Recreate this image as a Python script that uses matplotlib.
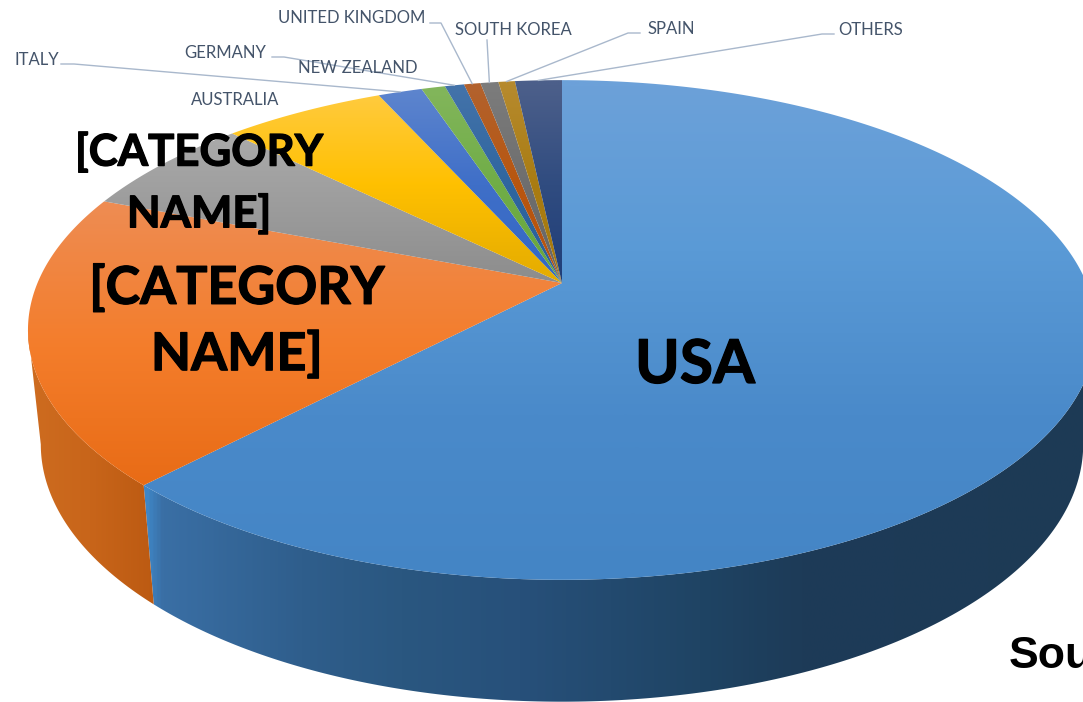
import numpy as np
import matplotlib
matplotlib.use('Agg')
import matplotlib.pyplot as plt
import matplotlib.patheffects as pe
from matplotlib.patches import Polygon
from matplotlib.colors import LinearSegmentedColormap

# slice shares in percent, clockwise from 12 o'clock
names = ['USA', '[CATEGORY NAME]', '[CATEGORY NAME]', 'AUSTRALIA', 'ITALY', 'GERMANY',
         'NEW ZEALAND', 'UNITED KINGDOM', 'SOUTH KOREA', 'SPAIN', 'OTHERS']
shares = [62.1, 18.8, 6.5, 5.9, 1.6, 0.86, 0.7, 0.6, 0.65, 0.6, 1.7]

# top face colours, light (back) to dark (front)
top_colors = [['#6CA1D9', '#5A9AD6', '#4A8ACA', '#4485C5'],
              ['#EE8C52', '#F47D2B', '#E86B15'],
              ['#ABABAB', '#9C9C9C', '#8C8C8C'],
              ['#FFCC45', '#FFC000', '#E3AB00'],
              ['#5F86CE', '#3F6FC8', '#3367C4'],
              ['#83B65C', '#70AD47', '#68A63C'],
              ['#4473AA', '#2F669F', '#2A6099'],
              ['#B2622E', '#B8560F', '#B8540F'],
              ['#7C7C7C', '#6E6E6E', '#666666'],
              ['#B68A2E', '#A97C12', '#A67A0E'],
              ['#4C5F8A', '#304C80', '#1F3D78']]

# side wall colours and the x they sit at
wall_usa = ['#3F86C6', '#3A6FA5', '#2F5E8C', '#2A5780', '#27507A', '#1F4464', '#1D3B58', '#1D3A55']
wall_usa_x = [145, 160, 300, 400, 520, 700, 800, 1083]
wall_orange = ['#CE6C20', '#C8651A', '#BC5A12']
wall_orange_x = [28, 90, 155]

label_font = 'Lato'
label_color = '#44546A'
leader_color = '#A9B8CC'
small_labels = [('ITALY', 14, 60), ('GERMANY', 184, 53), ('NEW ZEALAND', 298, 68),
                ('AUSTRALIA', 191, 100), ('UNITED KINGDOM', 278, 18), ('SOUTH KOREA', 455, 30),
                ('SPAIN', 647, 29), ('OTHERS', 838, 30)]
# slice index each leader ends on, then its elbow
leaders = [(4, [(61, 64), (74, 64)]),
           (6, [(272, 57), (284, 57)]),
           (7, [(430, 23), (441, 23)]),
           (8, [(487, 40), (487, 40)]),
           (9, [(640, 33), (628, 33)]),
           (10, [(834, 34), (822, 34)])]

# pie projection in picture pixels
cx, cy = 562, 283
A, B, k = 524.5, 241, 0.188
bottom_cy = 396
bottom_sx, bottom_sy = 0.976, 1.03


def rim(theta, bottom=False):
    th = np.radians(theta)
    x, y = np.sin(th), -np.cos(th)
    px = A * x / (1 - k * y)
    py = B * y / (1 - k * y)
    if bottom:
        return np.column_stack([cx + bottom_sx * px, bottom_cy + bottom_sy * py])
    return np.column_stack([cx + px, cy + py])


def fill_gradient(ax, pts, colors, stops, horizontal, z):
    pos = (np.array(stops, dtype=float) - stops[0]) / (stops[-1] - stops[0])
    cmap = LinearSegmentedColormap.from_list('g', list(zip(pos, colors)))
    x0, y0 = pts.min(axis=0) - 2
    x1, y1 = pts.max(axis=0) + 2
    if horizontal:
        coords = np.linspace(x0, x1, 512)
        grad = np.clip((coords - stops[0]) / (stops[-1] - stops[0]), 0, 1).reshape(1, -1)
    else:
        coords = np.linspace(y0, y1, 512)
        grad = np.clip((coords - stops[0]) / (stops[-1] - stops[0]), 0, 1).reshape(-1, 1)
    patch = Polygon(pts, closed=True, transform=ax.transData, fc='none', ec='none')
    ax.add_patch(patch)
    im = ax.imshow(grad, extent=(x0, x1, y1, y0), origin='upper', aspect='auto', cmap=cmap, vmin=0, vmax=1,
                   zorder=z, interpolation='bilinear')
    im.set_clip_path(patch)


fig = plt.figure(figsize=(10.83, 7.02), dpi=100)
ax = fig.add_axes([0, 0, 1, 1])
ax.axis('off')

edges = np.concatenate([[0], np.cumsum(shares)]) * 360 / sum(shares)

# side walls, only the front half shows
side_left = np.degrees(np.arccos(-k))
side_right = 360 - side_left
th = np.linspace(side_left, edges[1], 200)
fill_gradient(ax, np.vstack([rim(th), rim(th[::-1], True)]), wall_usa, wall_usa_x, True, 1)
th = np.linspace(edges[1], side_right, 60)
fill_gradient(ax, np.vstack([rim(th), rim(th[::-1], True)]), wall_orange, wall_orange_x, True, 1)

# top face
face_ranges = [(85, 580), (205, 490), (130, 285)] + [(85, 285)] * 8
for i in range(len(shares)):
    th = np.linspace(edges[i], edges[i + 1], max(int(shares[i] * 8), 6))
    pts = np.vstack([[cx, cy], rim(th)])
    lo, hi = face_ranges[i]
    stops = np.linspace(lo, hi, len(top_colors[i]))
    fill_gradient(ax, pts, top_colors[i], stops, False, 2 + i * 0.01)

# leader lines end on the middle of their slice
for i, elbow in leaders:
    end = rim((edges[i] + edges[i + 1]) / 2)[0]
    xs = [p[0] for p in elbow] + [end[0]]
    ys = [p[1] for p in elbow] + [end[1]]
    ax.plot(xs, ys, color=leader_color, lw=1.0, zorder=3)

for text, x, y in small_labels:
    ax.text(x, y, text, family=label_font, fontsize=12, color=label_color, va='center', ha='left', zorder=4)

thick = [pe.withStroke(linewidth=0.9, foreground='black')]
ax.text(199, 183, '[CATEGORY\nNAME]', family=label_font, fontweight='bold', fontsize=31.5, color='black',
        ha='center', va='center', linespacing=1.61, zorder=5, path_effects=thick)
ax.text(237, 322, '[CATEGORY\nNAME]', family=label_font, fontweight='bold', fontsize=37.5, color='black',
        ha='center', va='center', linespacing=1.47, zorder=5, path_effects=thick)
ax.text(695, 366, names[0], family=label_font, fontweight='bold', fontsize=43.5, color='black',
        ha='center', va='center', zorder=5, path_effects=thick)
ax.text(1009, 668, 'Sou', family='Liberation Sans', fontweight='bold', fontsize=32, color='black',
        ha='left', va='baseline', zorder=5)

ax.set_xlim(0, 1083)
ax.set_ylim(702, 0)
fig.savefig('out.png', dpi=100)
